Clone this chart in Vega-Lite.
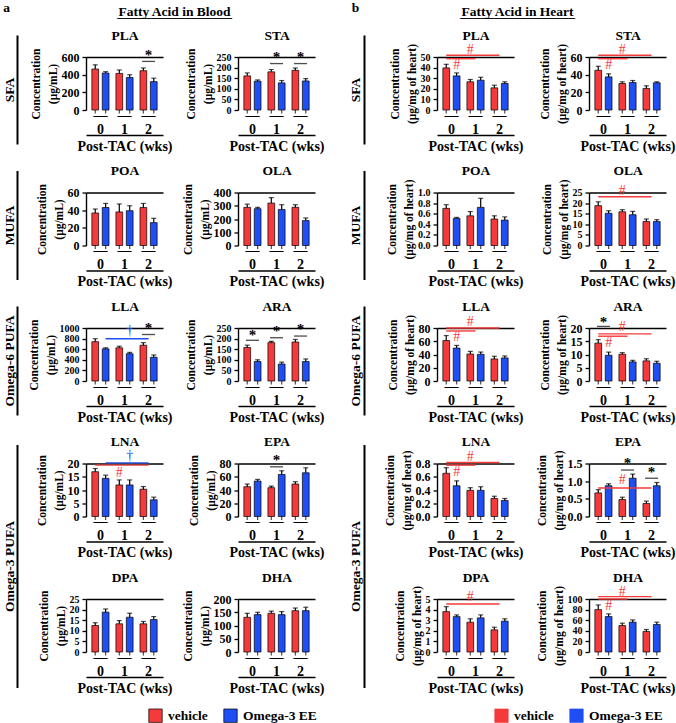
{
"$schema": "https://vega.github.io/schema/vega-lite/v6.json",
"padding": {"left": 2, "top": 0, "right": 0, "bottom": 0},
"background": "white",
"config": {
 "font": "Liberation Serif",
 "view": {"stroke": null},
 "axis": {"grid": false, "domainColor": "black", "tickColor": "black", "labelColor": "black", "titleColor": "black", "labelFontWeight": "bold", "titleFontWeight": "bold", "domainWidth": 1.4, "tickWidth": 1.3},
 "axisBottom": {"ticks": false, "offset": 25, "labelPadding": -27, "labelFontSize": 14, "labelAngle": 0, "labelLineHeight": 14, "titleFontSize": 14, "titlePadding": 3},
 "axisLeft": {"labelFontSize": 12, "tickSize": 4, "labelPadding": 3, "titleFontSize": 11.5, "titleLineHeight": 17, "titlePadding": 3, "labelOverlap": false, "labelSeparation": -40, "labelFlush": false, "labelBound": false},
 "scale": {"bandPaddingInner": 0.1, "barBandPaddingInner": 0.1, "bandPaddingOuter": 0.02, "offsetBandPaddingInner": 0.35, "offsetBandPaddingOuter": 0.1},
 "range": {"category": ["#f43a3a", "#1f4ff2"]},
 "bar": {"stroke": "black", "strokeWidth": 0.7}
},
"datasets": {
 "d": [
  {"p":"bPLA","w":0,"t":0,"m":464,"e":511},{"p":"bPLA","w":0,"t":1,"m":418,"e":434},{"p":"bPLA","w":1,"t":0,"m":414,"e":453},{"p":"bPLA","w":1,"t":1,"m":368,"e":399},{"p":"bPLA","w":2,"t":0,"m":445,"e":476},{"p":"bPLA","w":2,"t":1,"m":321,"e":360},
  {"p":"bSTA","w":0,"t":0,"m":161,"e":175},{"p":"bSTA","w":0,"t":1,"m":136,"e":142},{"p":"bSTA","w":1,"t":0,"m":180,"e":191},{"p":"bSTA","w":1,"t":1,"m":128,"e":139},{"p":"bSTA","w":2,"t":0,"m":187,"e":198},{"p":"bSTA","w":2,"t":1,"m":137,"e":148},
  {"p":"bPOA","w":0,"t":0,"m":36.8,"e":41.3},{"p":"bPOA","w":0,"t":1,"m":43,"e":47.6},{"p":"bPOA","w":1,"t":0,"m":38,"e":47},{"p":"bPOA","w":1,"t":1,"m":39.4,"e":45},{"p":"bPOA","w":2,"t":0,"m":43,"e":47.6},{"p":"bPOA","w":2,"t":1,"m":25.9,"e":30.8},
  {"p":"bOLA","w":0,"t":0,"m":288,"e":312},{"p":"bOLA","w":0,"t":1,"m":278,"e":288},{"p":"bOLA","w":1,"t":0,"m":320,"e":362},{"p":"bOLA","w":1,"t":1,"m":272,"e":308},{"p":"bOLA","w":2,"t":0,"m":288,"e":308},{"p":"bOLA","w":2,"t":1,"m":188,"e":208},
  {"p":"bLLA","w":0,"t":0,"m":742,"e":798},{"p":"bLLA","w":0,"t":1,"m":607,"e":626},{"p":"bLLA","w":1,"t":0,"m":626,"e":656},{"p":"bLLA","w":1,"t":1,"m":515,"e":540},{"p":"bLLA","w":2,"t":0,"m":675,"e":724},{"p":"bLLA","w":2,"t":1,"m":448,"e":491},
  {"p":"bARA","w":0,"t":0,"m":158,"e":169},{"p":"bARA","w":0,"t":1,"m":92,"e":100},{"p":"bARA","w":1,"t":0,"m":181,"e":187},{"p":"bARA","w":1,"t":1,"m":80,"e":89},{"p":"bARA","w":2,"t":0,"m":184,"e":196},{"p":"bARA","w":2,"t":1,"m":92,"e":104},
  {"p":"bLNA","w":0,"t":0,"m":16.9,"e":18.1},{"p":"bLNA","w":0,"t":1,"m":14.4,"e":15.6},{"p":"bLNA","w":1,"t":0,"m":11.9,"e":13.8},{"p":"bLNA","w":1,"t":1,"m":11.9,"e":13.8},{"p":"bLNA","w":2,"t":0,"m":10.3,"e":11.3},{"p":"bLNA","w":2,"t":1,"m":6.3,"e":7.3},
  {"p":"bEPA","w":0,"t":0,"m":45,"e":49},{"p":"bEPA","w":0,"t":1,"m":53.5,"e":56},{"p":"bEPA","w":1,"t":0,"m":43.5,"e":46},{"p":"bEPA","w":1,"t":1,"m":63.5,"e":69},{"p":"bEPA","w":2,"t":0,"m":49,"e":52.5},{"p":"bEPA","w":2,"t":1,"m":66,"e":73.5},
  {"p":"bDPA","w":0,"t":0,"m":12.5,"e":13.8},{"p":"bDPA","w":0,"t":1,"m":18.8,"e":20.3},{"p":"bDPA","w":1,"t":0,"m":13.3,"e":14.8},{"p":"bDPA","w":1,"t":1,"m":16.4,"e":18.3},{"p":"bDPA","w":2,"t":0,"m":13.3,"e":14.4},{"p":"bDPA","w":2,"t":1,"m":15.3,"e":16.7},
  {"p":"bDHA","w":0,"t":0,"m":131,"e":146},{"p":"bDHA","w":0,"t":1,"m":141,"e":150},{"p":"bDHA","w":1,"t":0,"m":146,"e":154},{"p":"bDHA","w":1,"t":1,"m":141,"e":152.5},{"p":"bDHA","w":2,"t":0,"m":156,"e":166},{"p":"bDHA","w":2,"t":1,"m":156,"e":169},
  {"p":"hPLA","w":0,"t":0,"m":39.7,"e":43.1},{"p":"hPLA","w":0,"t":1,"m":32.2,"e":35},{"p":"hPLA","w":1,"t":0,"m":26.6,"e":28.8},{"p":"hPLA","w":1,"t":1,"m":28.1,"e":30.9},{"p":"hPLA","w":2,"t":0,"m":20.9,"e":23.4},{"p":"hPLA","w":2,"t":1,"m":25,"e":26.6},
  {"p":"hSTA","w":0,"t":0,"m":45,"e":49.5},{"p":"hSTA","w":0,"t":1,"m":37.5,"e":40.9},{"p":"hSTA","w":1,"t":0,"m":30,"e":31.9},{"p":"hSTA","w":1,"t":1,"m":31.1,"e":33.4},{"p":"hSTA","w":2,"t":0,"m":24.4,"e":27.4},{"p":"hSTA","w":2,"t":1,"m":30.8,"e":31.9},
  {"p":"hPOA","w":0,"t":0,"m":0.70,"e":0.77},{"p":"hPOA","w":0,"t":1,"m":0.51,"e":0.53},{"p":"hPOA","w":1,"t":0,"m":0.56,"e":0.64},{"p":"hPOA","w":1,"t":1,"m":0.72,"e":0.89},{"p":"hPOA","w":2,"t":0,"m":0.50,"e":0.56},{"p":"hPOA","w":2,"t":1,"m":0.48,"e":0.54},
  {"p":"hOLA","w":0,"t":0,"m":18.8,"e":20.6},{"p":"hOLA","w":0,"t":1,"m":15.2,"e":16.4},{"p":"hOLA","w":1,"t":0,"m":15.9,"e":16.9},{"p":"hOLA","w":1,"t":1,"m":14.5,"e":16.1},{"p":"hOLA","w":2,"t":0,"m":11.3,"e":12.5},{"p":"hOLA","w":2,"t":1,"m":11.3,"e":12.2},
  {"p":"hLLA","w":0,"t":0,"m":61.1,"e":68.6},{"p":"hLLA","w":0,"t":1,"m":49.7,"e":53.7},{"p":"hLLA","w":1,"t":0,"m":40.7,"e":44.7},{"p":"hLLA","w":1,"t":1,"m":40.2,"e":43.7},{"p":"hLLA","w":2,"t":0,"m":33.3,"e":37.3},{"p":"hLLA","w":2,"t":1,"m":34.8,"e":37.8},
  {"p":"hARA","w":0,"t":0,"m":14.3,"e":15.6},{"p":"hARA","w":0,"t":1,"m":9.7,"e":10.9},{"p":"hARA","w":1,"t":0,"m":10.1,"e":10.7},{"p":"hARA","w":1,"t":1,"m":7.2,"e":7.8},{"p":"hARA","w":2,"t":0,"m":7.6,"e":8.4},{"p":"hARA","w":2,"t":1,"m":6.7,"e":7.45},
  {"p":"hLNA","w":0,"t":0,"m":0.652,"e":0.736},{"p":"hLNA","w":0,"t":1,"m":0.464,"e":0.538},{"p":"hLNA","w":1,"t":0,"m":0.395,"e":0.435},{"p":"hLNA","w":1,"t":1,"m":0.395,"e":0.449},{"p":"hLNA","w":2,"t":0,"m":0.272,"e":0.306},{"p":"hLNA","w":2,"t":1,"m":0.242,"e":0.272},
  {"p":"hEPA","w":0,"t":0,"m":0.667,"e":0.76},{"p":"hEPA","w":0,"t":1,"m":0.87,"e":0.926},{"p":"hEPA","w":1,"t":0,"m":0.48,"e":0.546},{"p":"hEPA","w":1,"t":1,"m":1.083,"e":1.2},{"p":"hEPA","w":2,"t":0,"m":0.37,"e":0.435},{"p":"hEPA","w":2,"t":1,"m":0.87,"e":0.963},
  {"p":"hDPA","w":0,"t":0,"m":3.81,"e":4.28},{"p":"hDPA","w":0,"t":1,"m":3.34,"e":3.5},{"p":"hDPA","w":1,"t":0,"m":2.81,"e":3.13},{"p":"hDPA","w":1,"t":1,"m":3.22,"e":3.5},{"p":"hDPA","w":2,"t":0,"m":2.09,"e":2.34},{"p":"hDPA","w":2,"t":1,"m":2.91,"e":3.13},
  {"p":"hDHA","w":0,"t":0,"m":80,"e":88.8},{"p":"hDHA","w":0,"t":1,"m":66.9,"e":71.9},{"p":"hDHA","w":1,"t":0,"m":50,"e":54.4},{"p":"hDHA","w":1,"t":1,"m":56.3,"e":60.6},{"p":"hDHA","w":2,"t":0,"m":38.8,"e":42.5},{"p":"hDHA","w":2,"t":1,"m":51.9,"e":56.3}
 ],
 "st": [
  {"p":"bPLA","w":2,"y":550,"ys":627},
  {"p":"bSTA","w":1,"y":219,"ys":250},{"p":"bSTA","w":2,"y":219,"ys":250},
  {"p":"bLLA","w":2,"y":877,"ys":1000},
  {"p":"bARA","w":0,"y":192,"ys":219},{"p":"bARA","w":1,"y":204,"ys":235},{"p":"bARA","w":2,"y":212,"ys":245},
  {"p":"bEPA","w":1,"y":75,"ys":85},
  {"p":"hARA","w":0,"y":20.6,"ys":22.4},
  {"p":"hEPA","w":1,"y":1.315,"ys":1.52},{"p":"hEPA","w":2,"y":1.083,"ys":1.27}
 ],
 "l": [
  {"p":"bLLA","w":0,"w2":2,"t":1,"y":798},
  {"p":"bLNA","w":0,"w2":2,"t":0,"y":19.4},{"p":"bLNA","w":0,"w2":2,"t":1,"y":20.25},
  {"p":"hPLA","w":0,"w2":2,"t":0,"y":51.6},{"p":"hPLA","w":0,"w2":1,"t":0,"y":48.4},
  {"p":"hSTA","w":0,"w2":2,"t":0,"y":61.9},{"p":"hSTA","w":0,"w2":1,"t":0,"y":58.1},
  {"p":"hOLA","w":0,"w2":2,"t":0,"y":23},
  {"p":"hLLA","w":0,"w2":2,"t":0,"y":80},{"p":"hLLA","w":0,"w2":1,"t":0,"y":75.5},
  {"p":"hARA","w":0,"w2":2,"t":0,"y":17.8},{"p":"hARA","w":0,"w2":1,"t":0,"y":16.9},
  {"p":"hLNA","w":0,"w2":2,"t":0,"y":0.815},{"p":"hLNA","w":0,"w2":1,"t":0,"y":0.775},
  {"p":"hEPA","w":0,"w2":2,"t":0,"y":0.806},
  {"p":"hDPA","w":0,"w2":2,"t":0,"y":4.53},
  {"p":"hDHA","w":0,"w2":2,"t":0,"y":104.4},{"p":"hDHA","w":0,"w2":1,"t":0,"y":100}
 ],
 "s": [
  {"p":"bLLA","w":1,"t":1,"g":1,"y":939,"s":"†"},
  {"p":"bLNA","w":1,"t":0,"g":0,"y":16.25,"s":"#"},{"p":"bLNA","w":1,"t":1,"g":1,"y":22.75,"s":"†"},
  {"p":"hPLA","w":1,"t":0,"g":0,"y":56.25,"s":"#"},{"p":"hPLA","w":0,"t":1,"g":0,"y":42.2,"s":"#"},
  {"p":"hSTA","w":1,"t":0,"g":0,"y":67.5,"s":"#"},{"p":"hSTA","w":0,"t":1,"g":0,"y":50.6,"s":"#"},
  {"p":"hOLA","w":1,"t":0,"g":0,"y":25.8,"s":"#"},
  {"p":"hLLA","w":1,"t":0,"g":0,"y":88.5,"s":"#"},{"p":"hLLA","w":0,"t":1,"g":0,"y":66,"s":"#"},
  {"p":"hARA","w":1,"t":0,"g":0,"y":20.2,"s":"#"},{"p":"hARA","w":0,"t":1,"g":0,"y":14.4,"s":"#"},
  {"p":"hLNA","w":1,"t":0,"g":0,"y":0.90,"s":"#"},{"p":"hLNA","w":0,"t":1,"g":0,"y":0.677,"s":"#"},
  {"p":"hEPA","w":1,"t":0,"g":0,"y":1.04,"s":"#"},
  {"p":"hDPA","w":1,"t":0,"g":0,"y":5.16,"s":"#"},
  {"p":"hDHA","w":1,"t":0,"g":0,"y":113.75,"s":"#"},{"p":"hDHA","w":0,"t":1,"g":0,"y":87.5,"s":"#"}
 ]
},
"columns": 4,
"spacing": {"row": 82.5, "column": 75},
"bounds": "flush",
"align": "each",
"resolve": {"scale": {"color": "independent"}},
"concat": [
 {"width":77,"height":53,"resolve":{"scale":{"x":"independent","y":"independent"}},"layer":[
  {"data":{"name":"d"},"transform":[{"filter":"datum.p=='bPLA'"}],"layer":[
   {"mark":{"type":"tick","orient":"vertical","size":7,"thickness":1.2,"color":"black"},"encoding":{"x":{"field":"w","type":"nominal"},"xOffset":{"field":"t","type":"nominal"},"y":{"datum":0}}},
   {"mark":"bar","encoding":{"x":{"field":"w","type":"nominal","title":"Post-TAC (wks)","axis":{"labelExpr":"['—', datum.label]"}},"xOffset":{"field":"t","type":"nominal"},"y":{"field":"m","type":"quantitative","scale":{"domain":[0,600],"nice":false},"axis":{"labelOverlap":false,"tickCount":3,"title":["Concentration","(μg/mL)"]}},"color":{"field":"t","type":"nominal","legend":null}}},
   {"mark":{"type":"rule","strokeWidth":1.2,"color":"black"},"encoding":{"x":{"field":"w","type":"nominal"},"xOffset":{"field":"t","type":"nominal"},"y":{"field":"e","type":"quantitative"},"y2":{"field":"m"}}},
   {"mark":{"type":"tick","orient":"horizontal","size":5,"thickness":1.2,"color":"black"},"encoding":{"x":{"field":"w","type":"nominal"},"xOffset":{"field":"t","type":"nominal"},"y":{"field":"e","type":"quantitative"}}},
   {"data":{"name":"st"},"transform":[{"filter":"datum.p=='bPLA'"}],"mark":{"type":"tick","orient":"horizontal","size":13,"thickness":1.3,"color":"black"},"encoding":{"x":{"field":"w","type":"nominal"},"y":{"field":"y","type":"quantitative"}}},
   {"data":{"name":"st"},"transform":[{"filter":"datum.p=='bPLA'"}],"mark":{"type":"text","text":"*","fontSize":15,"fontWeight":"bold","color":"black"},"encoding":{"x":{"field":"w","type":"nominal"},"y":{"field":"ys","type":"quantitative"}}}
  ]},
  {"data":{"values":[{}]},"mark":{"type":"point","opacity":0},"encoding":{"x":{"datum":0,"type":"quantitative","scale":{"domain":[0,1],"range":[0,77]},"axis":{"offset":0,"labels":false,"ticks":false,"title":"PLA","titleY":-18,"titleBaseline":"alphabetic","titleFontSize":13.5,"titlePadding":0}}}},
  {"data":{"values":[{"h":"a"},{"h":"Fatty Acid in Blood"}]},"mark":{"type":"point","opacity":0},"encoding":{"x":{"field":"h","type":"nominal","scale":{"type":"point","domain":["a","Fatty Acid in Blood"],"range":[-80,88],"padding":0},"axis":{"orient":"top","offset":39,"domain":false,"ticks":false,"title":null,"labelAngle":0,"labelFontSize":13.5,"labelOverlap":false,"labelPadding":{"condition":{"test":"datum.value=='a'","value":4},"value":0},"labelExpr":"datum.value=='a' ? 'a' : [datum.value, '_________________']","labelLineHeight":1}},"y":{"datum":0,"type":"quantitative","scale":{"domain":[0,1],"range":[87,-22]},"axis":{"orient":"left","offset":69,"labels":false,"ticks":false,"title":"SFA","titleFontSize":13.5,"titlePadding":1,"domainWidth":2}}}}
 ]},
 {"width":124,"height":53,"resolve":{"scale":{"x":"independent","y":"independent"}},"layer":[
  {"data":{"name":"d"},"transform":[{"filter":"datum.p=='bSTA'"}],"layer":[
   {"mark":{"type":"tick","orient":"vertical","size":7,"thickness":1.2,"color":"black"},"encoding":{"x":{"field":"w","type":"nominal"},"xOffset":{"field":"t","type":"nominal"},"y":{"datum":0}}},
   {"mark":"bar","encoding":{"x":{"field":"w","type":"nominal","title":"Post-TAC (wks)","scale":{"range":[0,77]},"axis":{"labelExpr":"['—', datum.label]"}},"xOffset":{"field":"t","type":"nominal"},"y":{"field":"m","type":"quantitative","scale":{"domain":[0,250],"nice":false},"axis":{"labelOverlap":false,"tickCount":5,"labelFontSize":10,"title":["Concentration","(μg/mL)"]}},"color":{"field":"t","type":"nominal","legend":null}}},
   {"mark":{"type":"rule","strokeWidth":1.2,"color":"black"},"encoding":{"x":{"field":"w","type":"nominal"},"xOffset":{"field":"t","type":"nominal"},"y":{"field":"e","type":"quantitative"},"y2":{"field":"m"}}},
   {"mark":{"type":"tick","orient":"horizontal","size":5,"thickness":1.2,"color":"black"},"encoding":{"x":{"field":"w","type":"nominal"},"xOffset":{"field":"t","type":"nominal"},"y":{"field":"e","type":"quantitative"}}},
   {"data":{"name":"st"},"transform":[{"filter":"datum.p=='bSTA'"}],"mark":{"type":"tick","orient":"horizontal","size":13,"thickness":1.3,"color":"black"},"encoding":{"x":{"field":"w","type":"nominal"},"y":{"field":"y","type":"quantitative"}}},
   {"data":{"name":"st"},"transform":[{"filter":"datum.p=='bSTA'"}],"mark":{"type":"text","text":"*","fontSize":15,"fontWeight":"bold","color":"black"},"encoding":{"x":{"field":"w","type":"nominal"},"y":{"field":"ys","type":"quantitative"}}}
  ]},
  {"data":{"values":[{}]},"mark":{"type":"point","opacity":0},"encoding":{"x":{"datum":0,"type":"quantitative","scale":{"domain":[0,1],"range":[0,77]},"axis":{"offset":0,"labels":false,"ticks":false,"title":"STA","titleY":-18,"titleBaseline":"alphabetic","titleFontSize":13.5,"titlePadding":0}}}}
 ]},
 {"width":77,"height":53,"resolve":{"scale":{"x":"independent","y":"independent"}},"layer":[
  {"data":{"name":"d"},"transform":[{"filter":"datum.p=='hPLA'"}],"layer":[
   {"mark":{"type":"tick","orient":"vertical","size":7,"thickness":1.2,"color":"black"},"encoding":{"x":{"field":"w","type":"nominal"},"xOffset":{"field":"t","type":"nominal"},"y":{"datum":0}}},
   {"mark":"bar","encoding":{"x":{"field":"w","type":"nominal","title":"Post-TAC (wks)","axis":{"labelExpr":"['—', datum.label]"}},"xOffset":{"field":"t","type":"nominal"},"y":{"field":"m","type":"quantitative","scale":{"domain":[0,50],"nice":false},"axis":{"labelOverlap":false,"tickCount":5,"labelFontSize":10,"title":["Concentration","(μg/mg of heart)"]}},"color":{"field":"t","type":"nominal","legend":null}}},
   {"mark":{"type":"rule","strokeWidth":1.2,"color":"black"},"encoding":{"x":{"field":"w","type":"nominal"},"xOffset":{"field":"t","type":"nominal"},"y":{"field":"e","type":"quantitative"},"y2":{"field":"m"}}},
   {"mark":{"type":"tick","orient":"horizontal","size":5,"thickness":1.2,"color":"black"},"encoding":{"x":{"field":"w","type":"nominal"},"xOffset":{"field":"t","type":"nominal"},"y":{"field":"e","type":"quantitative"}}},
   {"data":{"name":"l"},"transform":[{"filter":"datum.p=='hPLA'"}],"mark":{"type":"rule","strokeWidth":1.4},"encoding":{"x":{"field":"w","type":"nominal"},"x2":{"field":"w2"},"xOffset":{"field":"t","type":"nominal"},"y":{"field":"y","type":"quantitative"},"color":{"field":"t","type":"nominal","legend":null}}},
   {"data":{"name":"s"},"transform":[{"filter":"datum.p=='hPLA'"}],"mark":{"type":"text","fontSize":14},"encoding":{"x":{"field":"w","type":"nominal"},"xOffset":{"field":"t","type":"nominal"},"y":{"field":"y","type":"quantitative"},"text":{"field":"s"},"color":{"field":"g","type":"nominal","legend":null}}}
  ]},
  {"data":{"values":[{}]},"mark":{"type":"point","opacity":0},"encoding":{"x":{"datum":0,"type":"quantitative","scale":{"domain":[0,1],"range":[0,77]},"axis":{"offset":0,"labels":false,"ticks":false,"title":"PLA","titleY":-18,"titleBaseline":"alphabetic","titleFontSize":13.5,"titlePadding":0}}}},
  {"data":{"values":[{"h":"b"},{"h":"Fatty Acid in Heart"}]},"mark":{"type":"point","opacity":0},"encoding":{"x":{"field":"h","type":"nominal","scale":{"type":"point","domain":["b","Fatty Acid in Heart"],"range":[-82,80],"padding":0},"axis":{"orient":"top","offset":39,"domain":false,"ticks":false,"title":null,"labelAngle":0,"labelFontSize":13.5,"labelOverlap":false,"labelPadding":{"condition":{"test":"datum.value=='b'","value":4},"value":0},"labelExpr":"datum.value=='b' ? 'b' : [datum.value, '_________________']","labelLineHeight":1}},"y":{"datum":0,"type":"quantitative","scale":{"domain":[0,1],"range":[87,-22]},"axis":{"orient":"left","offset":73,"labels":false,"ticks":false,"title":"SFA","titleFontSize":13.5,"titlePadding":1.5,"domainWidth":2}}}}
 ]},
 {"width":77,"height":53,"resolve":{"scale":{"x":"independent","y":"independent"}},"layer":[
  {"data":{"name":"d"},"transform":[{"filter":"datum.p=='hSTA'"}],"layer":[
   {"mark":{"type":"tick","orient":"vertical","size":7,"thickness":1.2,"color":"black"},"encoding":{"x":{"field":"w","type":"nominal"},"xOffset":{"field":"t","type":"nominal"},"y":{"datum":0}}},
   {"mark":"bar","encoding":{"x":{"field":"w","type":"nominal","title":"Post-TAC (wks)","axis":{"labelExpr":"['—', datum.label]"}},"xOffset":{"field":"t","type":"nominal"},"y":{"field":"m","type":"quantitative","scale":{"domain":[0,60],"nice":false},"axis":{"labelOverlap":false,"tickCount":3,"title":["Concentration","(μg/mg of heart)"]}},"color":{"field":"t","type":"nominal","legend":null}}},
   {"mark":{"type":"rule","strokeWidth":1.2,"color":"black"},"encoding":{"x":{"field":"w","type":"nominal"},"xOffset":{"field":"t","type":"nominal"},"y":{"field":"e","type":"quantitative"},"y2":{"field":"m"}}},
   {"mark":{"type":"tick","orient":"horizontal","size":5,"thickness":1.2,"color":"black"},"encoding":{"x":{"field":"w","type":"nominal"},"xOffset":{"field":"t","type":"nominal"},"y":{"field":"e","type":"quantitative"}}},
   {"data":{"name":"l"},"transform":[{"filter":"datum.p=='hSTA'"}],"mark":{"type":"rule","strokeWidth":1.4},"encoding":{"x":{"field":"w","type":"nominal"},"x2":{"field":"w2"},"xOffset":{"field":"t","type":"nominal"},"y":{"field":"y","type":"quantitative"},"color":{"field":"t","type":"nominal","legend":null}}},
   {"data":{"name":"s"},"transform":[{"filter":"datum.p=='hSTA'"}],"mark":{"type":"text","fontSize":14},"encoding":{"x":{"field":"w","type":"nominal"},"xOffset":{"field":"t","type":"nominal"},"y":{"field":"y","type":"quantitative"},"text":{"field":"s"},"color":{"field":"g","type":"nominal","legend":null}}}
  ]},
  {"data":{"values":[{}]},"mark":{"type":"point","opacity":0},"encoding":{"x":{"datum":0,"type":"quantitative","scale":{"domain":[0,1],"range":[0,77]},"axis":{"offset":0,"labels":false,"ticks":false,"title":"STA","titleY":-18,"titleBaseline":"alphabetic","titleFontSize":13.5,"titlePadding":0}}}}
 ]},
 {"width":77,"height":53,"resolve":{"scale":{"x":"independent","y":"independent"}},"layer":[
  {"data":{"name":"d"},"transform":[{"filter":"datum.p=='bPOA'"}],"layer":[
   {"mark":{"type":"tick","orient":"vertical","size":7,"thickness":1.2,"color":"black"},"encoding":{"x":{"field":"w","type":"nominal"},"xOffset":{"field":"t","type":"nominal"},"y":{"datum":0}}},
   {"mark":"bar","encoding":{"x":{"field":"w","type":"nominal","title":"Post-TAC (wks)","axis":{"labelExpr":"['—', datum.label]"}},"xOffset":{"field":"t","type":"nominal"},"y":{"field":"m","type":"quantitative","scale":{"domain":[0,60],"nice":false},"axis":{"labelOverlap":false,"tickCount":3,"title":["Concentration","(μg/mL)"]}},"color":{"field":"t","type":"nominal","legend":null}}},
   {"mark":{"type":"rule","strokeWidth":1.2,"color":"black"},"encoding":{"x":{"field":"w","type":"nominal"},"xOffset":{"field":"t","type":"nominal"},"y":{"field":"e","type":"quantitative"},"y2":{"field":"m"}}},
   {"mark":{"type":"tick","orient":"horizontal","size":5,"thickness":1.2,"color":"black"},"encoding":{"x":{"field":"w","type":"nominal"},"xOffset":{"field":"t","type":"nominal"},"y":{"field":"e","type":"quantitative"}}}
  ]},
  {"data":{"values":[{}]},"mark":{"type":"point","opacity":0},"encoding":{"x":{"datum":0,"type":"quantitative","scale":{"domain":[0,1],"range":[0,77]},"axis":{"offset":0,"labels":false,"ticks":false,"title":"POA","titleY":-18,"titleBaseline":"alphabetic","titleFontSize":13.5,"titlePadding":0}}}},
  {"data":{"values":[{}]},"mark":{"type":"point","opacity":0},"encoding":{"y":{"datum":0,"type":"quantitative","scale":{"domain":[0,1],"range":[87,-22]},"axis":{"orient":"left","offset":69,"labels":false,"ticks":false,"title":"MUFA","titleFontSize":13.5,"titlePadding":1,"domainWidth":2}}}}
 ]},
 {"width":124,"height":53,"resolve":{"scale":{"x":"independent","y":"independent"}},"layer":[
  {"data":{"name":"d"},"transform":[{"filter":"datum.p=='bOLA'"}],"layer":[
   {"mark":{"type":"tick","orient":"vertical","size":7,"thickness":1.2,"color":"black"},"encoding":{"x":{"field":"w","type":"nominal"},"xOffset":{"field":"t","type":"nominal"},"y":{"datum":0}}},
   {"mark":"bar","encoding":{"x":{"field":"w","type":"nominal","title":"Post-TAC (wks)","scale":{"range":[0,77]},"axis":{"labelExpr":"['—', datum.label]"}},"xOffset":{"field":"t","type":"nominal"},"y":{"field":"m","type":"quantitative","scale":{"domain":[0,400],"nice":false},"axis":{"labelOverlap":false,"tickCount":4,"title":["Concentration","(μg/mL)"]}},"color":{"field":"t","type":"nominal","legend":null}}},
   {"mark":{"type":"rule","strokeWidth":1.2,"color":"black"},"encoding":{"x":{"field":"w","type":"nominal"},"xOffset":{"field":"t","type":"nominal"},"y":{"field":"e","type":"quantitative"},"y2":{"field":"m"}}},
   {"mark":{"type":"tick","orient":"horizontal","size":5,"thickness":1.2,"color":"black"},"encoding":{"x":{"field":"w","type":"nominal"},"xOffset":{"field":"t","type":"nominal"},"y":{"field":"e","type":"quantitative"}}}
  ]},
  {"data":{"values":[{}]},"mark":{"type":"point","opacity":0},"encoding":{"x":{"datum":0,"type":"quantitative","scale":{"domain":[0,1],"range":[0,77]},"axis":{"offset":0,"labels":false,"ticks":false,"title":"OLA","titleY":-18,"titleBaseline":"alphabetic","titleFontSize":13.5,"titlePadding":0}}}}
 ]},
 {"width":77,"height":53,"resolve":{"scale":{"x":"independent","y":"independent"}},"layer":[
  {"data":{"name":"d"},"transform":[{"filter":"datum.p=='hPOA'"}],"layer":[
   {"mark":{"type":"tick","orient":"vertical","size":7,"thickness":1.2,"color":"black"},"encoding":{"x":{"field":"w","type":"nominal"},"xOffset":{"field":"t","type":"nominal"},"y":{"datum":0}}},
   {"mark":"bar","encoding":{"x":{"field":"w","type":"nominal","title":"Post-TAC (wks)","axis":{"labelExpr":"['—', datum.label]"}},"xOffset":{"field":"t","type":"nominal"},"y":{"field":"m","type":"quantitative","scale":{"domain":[0,1],"nice":false},"axis":{"labelOverlap":false,"tickCount":5,"labelFontSize":10,"format":".1f","title":["Concentration","(μg/mg of heart)"]}},"color":{"field":"t","type":"nominal","legend":null}}},
   {"mark":{"type":"rule","strokeWidth":1.2,"color":"black"},"encoding":{"x":{"field":"w","type":"nominal"},"xOffset":{"field":"t","type":"nominal"},"y":{"field":"e","type":"quantitative"},"y2":{"field":"m"}}},
   {"mark":{"type":"tick","orient":"horizontal","size":5,"thickness":1.2,"color":"black"},"encoding":{"x":{"field":"w","type":"nominal"},"xOffset":{"field":"t","type":"nominal"},"y":{"field":"e","type":"quantitative"}}}
  ]},
  {"data":{"values":[{}]},"mark":{"type":"point","opacity":0},"encoding":{"x":{"datum":0,"type":"quantitative","scale":{"domain":[0,1],"range":[0,77]},"axis":{"offset":0,"labels":false,"ticks":false,"title":"POA","titleY":-18,"titleBaseline":"alphabetic","titleFontSize":13.5,"titlePadding":0}}}},
  {"data":{"values":[{}]},"mark":{"type":"point","opacity":0},"encoding":{"y":{"datum":0,"type":"quantitative","scale":{"domain":[0,1],"range":[87,-22]},"axis":{"orient":"left","offset":73,"labels":false,"ticks":false,"title":"MUFA","titleFontSize":13.5,"titlePadding":1.5,"domainWidth":2}}}}
 ]},
 {"width":77,"height":53,"resolve":{"scale":{"x":"independent","y":"independent"}},"layer":[
  {"data":{"name":"d"},"transform":[{"filter":"datum.p=='hOLA'"}],"layer":[
   {"mark":{"type":"tick","orient":"vertical","size":7,"thickness":1.2,"color":"black"},"encoding":{"x":{"field":"w","type":"nominal"},"xOffset":{"field":"t","type":"nominal"},"y":{"datum":0}}},
   {"mark":"bar","encoding":{"x":{"field":"w","type":"nominal","title":"Post-TAC (wks)","axis":{"labelExpr":"['—', datum.label]"}},"xOffset":{"field":"t","type":"nominal"},"y":{"field":"m","type":"quantitative","scale":{"domain":[0,25],"nice":false},"axis":{"labelOverlap":false,"tickCount":5,"labelFontSize":10,"title":["Concentration","(μg/mg of heart)"]}},"color":{"field":"t","type":"nominal","legend":null}}},
   {"mark":{"type":"rule","strokeWidth":1.2,"color":"black"},"encoding":{"x":{"field":"w","type":"nominal"},"xOffset":{"field":"t","type":"nominal"},"y":{"field":"e","type":"quantitative"},"y2":{"field":"m"}}},
   {"mark":{"type":"tick","orient":"horizontal","size":5,"thickness":1.2,"color":"black"},"encoding":{"x":{"field":"w","type":"nominal"},"xOffset":{"field":"t","type":"nominal"},"y":{"field":"e","type":"quantitative"}}},
   {"data":{"name":"l"},"transform":[{"filter":"datum.p=='hOLA'"}],"mark":{"type":"rule","strokeWidth":1.4},"encoding":{"x":{"field":"w","type":"nominal"},"x2":{"field":"w2"},"xOffset":{"field":"t","type":"nominal"},"y":{"field":"y","type":"quantitative"},"color":{"field":"t","type":"nominal","legend":null}}},
   {"data":{"name":"s"},"transform":[{"filter":"datum.p=='hOLA'"}],"mark":{"type":"text","fontSize":14},"encoding":{"x":{"field":"w","type":"nominal"},"xOffset":{"field":"t","type":"nominal"},"y":{"field":"y","type":"quantitative"},"text":{"field":"s"},"color":{"field":"g","type":"nominal","legend":null}}}
  ]},
  {"data":{"values":[{}]},"mark":{"type":"point","opacity":0},"encoding":{"x":{"datum":0,"type":"quantitative","scale":{"domain":[0,1],"range":[0,77]},"axis":{"offset":0,"labels":false,"ticks":false,"title":"OLA","titleY":-18,"titleBaseline":"alphabetic","titleFontSize":13.5,"titlePadding":0}}}}
 ]},
 {"width":77,"height":53,"resolve":{"scale":{"x":"independent","y":"independent"}},"layer":[
  {"data":{"name":"d"},"transform":[{"filter":"datum.p=='bLLA'"}],"layer":[
   {"mark":{"type":"tick","orient":"vertical","size":7,"thickness":1.2,"color":"black"},"encoding":{"x":{"field":"w","type":"nominal"},"xOffset":{"field":"t","type":"nominal"},"y":{"datum":0}}},
   {"mark":"bar","encoding":{"x":{"field":"w","type":"nominal","title":"Post-TAC (wks)","axis":{"labelExpr":"['—', datum.label]"}},"xOffset":{"field":"t","type":"nominal"},"y":{"field":"m","type":"quantitative","scale":{"domain":[0,1000],"nice":false},"axis":{"labelOverlap":false,"tickCount":5,"labelFontSize":10,"format":"d","title":["Concentration","(μg/mL)"]}},"color":{"field":"t","type":"nominal","legend":null}}},
   {"mark":{"type":"rule","strokeWidth":1.2,"color":"black"},"encoding":{"x":{"field":"w","type":"nominal"},"xOffset":{"field":"t","type":"nominal"},"y":{"field":"e","type":"quantitative"},"y2":{"field":"m"}}},
   {"mark":{"type":"tick","orient":"horizontal","size":5,"thickness":1.2,"color":"black"},"encoding":{"x":{"field":"w","type":"nominal"},"xOffset":{"field":"t","type":"nominal"},"y":{"field":"e","type":"quantitative"}}},
   {"data":{"name":"st"},"transform":[{"filter":"datum.p=='bLLA'"}],"mark":{"type":"tick","orient":"horizontal","size":13,"thickness":1.3,"color":"black"},"encoding":{"x":{"field":"w","type":"nominal"},"y":{"field":"y","type":"quantitative"}}},
   {"data":{"name":"st"},"transform":[{"filter":"datum.p=='bLLA'"}],"mark":{"type":"text","text":"*","fontSize":15,"fontWeight":"bold","color":"black"},"encoding":{"x":{"field":"w","type":"nominal"},"y":{"field":"ys","type":"quantitative"}}},
   {"data":{"name":"l"},"transform":[{"filter":"datum.p=='bLLA'"}],"mark":{"type":"rule","strokeWidth":1.4},"encoding":{"x":{"field":"w","type":"nominal"},"x2":{"field":"w2"},"xOffset":{"field":"t","type":"nominal"},"y":{"field":"y","type":"quantitative"},"color":{"field":"t","type":"nominal","legend":null}}},
   {"data":{"name":"s"},"transform":[{"filter":"datum.p=='bLLA'"}],"mark":{"type":"text","fontSize":14},"encoding":{"x":{"field":"w","type":"nominal"},"xOffset":{"field":"t","type":"nominal"},"y":{"field":"y","type":"quantitative"},"text":{"field":"s"},"color":{"field":"g","type":"nominal","legend":null}}}
  ]},
  {"data":{"values":[{}]},"mark":{"type":"point","opacity":0},"encoding":{"x":{"datum":0,"type":"quantitative","scale":{"domain":[0,1],"range":[0,77]},"axis":{"offset":0,"labels":false,"ticks":false,"title":"LLA","titleY":-18,"titleBaseline":"alphabetic","titleFontSize":13.5,"titlePadding":0}}}},
  {"data":{"values":[{}]},"mark":{"type":"point","opacity":0},"encoding":{"y":{"datum":0,"type":"quantitative","scale":{"domain":[0,1],"range":[87,-22]},"axis":{"orient":"left","offset":69,"labels":false,"ticks":false,"title":"Omega-6 PUFA","titleFontSize":13.5,"titlePadding":1,"domainWidth":2}}}}
 ]},
 {"width":124,"height":53,"resolve":{"scale":{"x":"independent","y":"independent"}},"layer":[
  {"data":{"name":"d"},"transform":[{"filter":"datum.p=='bARA'"}],"layer":[
   {"mark":{"type":"tick","orient":"vertical","size":7,"thickness":1.2,"color":"black"},"encoding":{"x":{"field":"w","type":"nominal"},"xOffset":{"field":"t","type":"nominal"},"y":{"datum":0}}},
   {"mark":"bar","encoding":{"x":{"field":"w","type":"nominal","title":"Post-TAC (wks)","scale":{"range":[0,77]},"axis":{"labelExpr":"['—', datum.label]"}},"xOffset":{"field":"t","type":"nominal"},"y":{"field":"m","type":"quantitative","scale":{"domain":[0,250],"nice":false},"axis":{"labelOverlap":false,"tickCount":5,"labelFontSize":10,"title":["Concentration","(μg/mL)"]}},"color":{"field":"t","type":"nominal","legend":null}}},
   {"mark":{"type":"rule","strokeWidth":1.2,"color":"black"},"encoding":{"x":{"field":"w","type":"nominal"},"xOffset":{"field":"t","type":"nominal"},"y":{"field":"e","type":"quantitative"},"y2":{"field":"m"}}},
   {"mark":{"type":"tick","orient":"horizontal","size":5,"thickness":1.2,"color":"black"},"encoding":{"x":{"field":"w","type":"nominal"},"xOffset":{"field":"t","type":"nominal"},"y":{"field":"e","type":"quantitative"}}},
   {"data":{"name":"st"},"transform":[{"filter":"datum.p=='bARA'"}],"mark":{"type":"tick","orient":"horizontal","size":13,"thickness":1.3,"color":"black"},"encoding":{"x":{"field":"w","type":"nominal"},"y":{"field":"y","type":"quantitative"}}},
   {"data":{"name":"st"},"transform":[{"filter":"datum.p=='bARA'"}],"mark":{"type":"text","text":"*","fontSize":15,"fontWeight":"bold","color":"black"},"encoding":{"x":{"field":"w","type":"nominal"},"y":{"field":"ys","type":"quantitative"}}}
  ]},
  {"data":{"values":[{}]},"mark":{"type":"point","opacity":0},"encoding":{"x":{"datum":0,"type":"quantitative","scale":{"domain":[0,1],"range":[0,77]},"axis":{"offset":0,"labels":false,"ticks":false,"title":"ARA","titleY":-18,"titleBaseline":"alphabetic","titleFontSize":13.5,"titlePadding":0}}}}
 ]},
 {"width":77,"height":53,"resolve":{"scale":{"x":"independent","y":"independent"}},"layer":[
  {"data":{"name":"d"},"transform":[{"filter":"datum.p=='hLLA'"}],"layer":[
   {"mark":{"type":"tick","orient":"vertical","size":7,"thickness":1.2,"color":"black"},"encoding":{"x":{"field":"w","type":"nominal"},"xOffset":{"field":"t","type":"nominal"},"y":{"datum":0}}},
   {"mark":"bar","encoding":{"x":{"field":"w","type":"nominal","title":"Post-TAC (wks)","axis":{"labelExpr":"['—', datum.label]"}},"xOffset":{"field":"t","type":"nominal"},"y":{"field":"m","type":"quantitative","scale":{"domain":[0,80],"nice":false},"axis":{"labelOverlap":false,"tickCount":4,"title":["Concentration","(μg/mg of heart)"]}},"color":{"field":"t","type":"nominal","legend":null}}},
   {"mark":{"type":"rule","strokeWidth":1.2,"color":"black"},"encoding":{"x":{"field":"w","type":"nominal"},"xOffset":{"field":"t","type":"nominal"},"y":{"field":"e","type":"quantitative"},"y2":{"field":"m"}}},
   {"mark":{"type":"tick","orient":"horizontal","size":5,"thickness":1.2,"color":"black"},"encoding":{"x":{"field":"w","type":"nominal"},"xOffset":{"field":"t","type":"nominal"},"y":{"field":"e","type":"quantitative"}}},
   {"data":{"name":"l"},"transform":[{"filter":"datum.p=='hLLA'"}],"mark":{"type":"rule","strokeWidth":1.4},"encoding":{"x":{"field":"w","type":"nominal"},"x2":{"field":"w2"},"xOffset":{"field":"t","type":"nominal"},"y":{"field":"y","type":"quantitative"},"color":{"field":"t","type":"nominal","legend":null}}},
   {"data":{"name":"s"},"transform":[{"filter":"datum.p=='hLLA'"}],"mark":{"type":"text","fontSize":14},"encoding":{"x":{"field":"w","type":"nominal"},"xOffset":{"field":"t","type":"nominal"},"y":{"field":"y","type":"quantitative"},"text":{"field":"s"},"color":{"field":"g","type":"nominal","legend":null}}}
  ]},
  {"data":{"values":[{}]},"mark":{"type":"point","opacity":0},"encoding":{"x":{"datum":0,"type":"quantitative","scale":{"domain":[0,1],"range":[0,77]},"axis":{"offset":0,"labels":false,"ticks":false,"title":"LLA","titleY":-18,"titleBaseline":"alphabetic","titleFontSize":13.5,"titlePadding":0}}}},
  {"data":{"values":[{}]},"mark":{"type":"point","opacity":0},"encoding":{"y":{"datum":0,"type":"quantitative","scale":{"domain":[0,1],"range":[87,-22]},"axis":{"orient":"left","offset":73,"labels":false,"ticks":false,"title":"Omega-6 PUFA","titleFontSize":13.5,"titlePadding":1.5,"domainWidth":2}}}}
 ]},
 {"width":77,"height":53,"resolve":{"scale":{"x":"independent","y":"independent"}},"layer":[
  {"data":{"name":"d"},"transform":[{"filter":"datum.p=='hARA'"}],"layer":[
   {"mark":{"type":"tick","orient":"vertical","size":7,"thickness":1.2,"color":"black"},"encoding":{"x":{"field":"w","type":"nominal"},"xOffset":{"field":"t","type":"nominal"},"y":{"datum":0}}},
   {"mark":"bar","encoding":{"x":{"field":"w","type":"nominal","title":"Post-TAC (wks)","axis":{"labelExpr":"['—', datum.label]"}},"xOffset":{"field":"t","type":"nominal"},"y":{"field":"m","type":"quantitative","scale":{"domain":[0,20],"nice":false},"axis":{"labelOverlap":false,"tickCount":4,"title":["Concentration","(μg/mg of heart)"]}},"color":{"field":"t","type":"nominal","legend":null}}},
   {"mark":{"type":"rule","strokeWidth":1.2,"color":"black"},"encoding":{"x":{"field":"w","type":"nominal"},"xOffset":{"field":"t","type":"nominal"},"y":{"field":"e","type":"quantitative"},"y2":{"field":"m"}}},
   {"mark":{"type":"tick","orient":"horizontal","size":5,"thickness":1.2,"color":"black"},"encoding":{"x":{"field":"w","type":"nominal"},"xOffset":{"field":"t","type":"nominal"},"y":{"field":"e","type":"quantitative"}}},
   {"data":{"name":"st"},"transform":[{"filter":"datum.p=='hARA'"}],"mark":{"type":"tick","orient":"horizontal","size":13,"thickness":1.3,"color":"black"},"encoding":{"x":{"field":"w","type":"nominal"},"y":{"field":"y","type":"quantitative"}}},
   {"data":{"name":"st"},"transform":[{"filter":"datum.p=='hARA'"}],"mark":{"type":"text","text":"*","fontSize":15,"fontWeight":"bold","color":"black"},"encoding":{"x":{"field":"w","type":"nominal"},"y":{"field":"ys","type":"quantitative"}}},
   {"data":{"name":"l"},"transform":[{"filter":"datum.p=='hARA'"}],"mark":{"type":"rule","strokeWidth":1.4},"encoding":{"x":{"field":"w","type":"nominal"},"x2":{"field":"w2"},"xOffset":{"field":"t","type":"nominal"},"y":{"field":"y","type":"quantitative"},"color":{"field":"t","type":"nominal","legend":null}}},
   {"data":{"name":"s"},"transform":[{"filter":"datum.p=='hARA'"}],"mark":{"type":"text","fontSize":14},"encoding":{"x":{"field":"w","type":"nominal"},"xOffset":{"field":"t","type":"nominal"},"y":{"field":"y","type":"quantitative"},"text":{"field":"s"},"color":{"field":"g","type":"nominal","legend":null}}}
  ]},
  {"data":{"values":[{}]},"mark":{"type":"point","opacity":0},"encoding":{"x":{"datum":0,"type":"quantitative","scale":{"domain":[0,1],"range":[0,77]},"axis":{"offset":0,"labels":false,"ticks":false,"title":"ARA","titleY":-18,"titleBaseline":"alphabetic","titleFontSize":13.5,"titlePadding":0}}}}
 ]},
 {"width":77,"height":53,"resolve":{"scale":{"x":"independent","y":"independent"}},"layer":[
  {"data":{"name":"d"},"transform":[{"filter":"datum.p=='bLNA'"}],"layer":[
   {"mark":{"type":"tick","orient":"vertical","size":7,"thickness":1.2,"color":"black"},"encoding":{"x":{"field":"w","type":"nominal"},"xOffset":{"field":"t","type":"nominal"},"y":{"datum":0}}},
   {"mark":"bar","encoding":{"x":{"field":"w","type":"nominal","title":"Post-TAC (wks)","axis":{"labelExpr":"['—', datum.label]"}},"xOffset":{"field":"t","type":"nominal"},"y":{"field":"m","type":"quantitative","scale":{"domain":[0,20],"nice":false},"axis":{"labelOverlap":false,"tickCount":4,"title":["Concentration","(μg/mL)"]}},"color":{"field":"t","type":"nominal","legend":null}}},
   {"mark":{"type":"rule","strokeWidth":1.2,"color":"black"},"encoding":{"x":{"field":"w","type":"nominal"},"xOffset":{"field":"t","type":"nominal"},"y":{"field":"e","type":"quantitative"},"y2":{"field":"m"}}},
   {"mark":{"type":"tick","orient":"horizontal","size":5,"thickness":1.2,"color":"black"},"encoding":{"x":{"field":"w","type":"nominal"},"xOffset":{"field":"t","type":"nominal"},"y":{"field":"e","type":"quantitative"}}},
   {"data":{"name":"l"},"transform":[{"filter":"datum.p=='bLNA'"}],"mark":{"type":"rule","strokeWidth":1.4},"encoding":{"x":{"field":"w","type":"nominal"},"x2":{"field":"w2"},"xOffset":{"field":"t","type":"nominal"},"y":{"field":"y","type":"quantitative"},"color":{"field":"t","type":"nominal","legend":null}}},
   {"data":{"name":"s"},"transform":[{"filter":"datum.p=='bLNA'"}],"mark":{"type":"text","fontSize":14},"encoding":{"x":{"field":"w","type":"nominal"},"xOffset":{"field":"t","type":"nominal"},"y":{"field":"y","type":"quantitative"},"text":{"field":"s"},"color":{"field":"g","type":"nominal","legend":null}}}
  ]},
  {"data":{"values":[{}]},"mark":{"type":"point","opacity":0},"encoding":{"x":{"datum":0,"type":"quantitative","scale":{"domain":[0,1],"range":[0,77]},"axis":{"offset":0,"labels":false,"ticks":false,"title":"LNA","titleY":-18,"titleBaseline":"alphabetic","titleFontSize":13.5,"titlePadding":0}}}},
  {"data":{"values":[{}]},"mark":{"type":"point","opacity":0},"encoding":{"y":{"datum":0,"type":"quantitative","scale":{"domain":[0,1],"range":[224,-19]},"axis":{"orient":"left","offset":69,"labels":false,"ticks":false,"title":"Omega-3 PUFA","titleFontSize":13.5,"titlePadding":1,"domainWidth":2}}}}
 ]},
 {"width":124,"height":53,"resolve":{"scale":{"x":"independent","y":"independent"}},"layer":[
  {"data":{"name":"d"},"transform":[{"filter":"datum.p=='bEPA'"}],"layer":[
   {"mark":{"type":"tick","orient":"vertical","size":7,"thickness":1.2,"color":"black"},"encoding":{"x":{"field":"w","type":"nominal"},"xOffset":{"field":"t","type":"nominal"},"y":{"datum":0}}},
   {"mark":"bar","encoding":{"x":{"field":"w","type":"nominal","title":"Post-TAC (wks)","scale":{"range":[0,77]},"axis":{"labelExpr":"['—', datum.label]"}},"xOffset":{"field":"t","type":"nominal"},"y":{"field":"m","type":"quantitative","scale":{"domain":[0,80],"nice":false},"axis":{"labelOverlap":false,"tickCount":4,"title":["Concentration","(μg/mL)"]}},"color":{"field":"t","type":"nominal","legend":null}}},
   {"mark":{"type":"rule","strokeWidth":1.2,"color":"black"},"encoding":{"x":{"field":"w","type":"nominal"},"xOffset":{"field":"t","type":"nominal"},"y":{"field":"e","type":"quantitative"},"y2":{"field":"m"}}},
   {"mark":{"type":"tick","orient":"horizontal","size":5,"thickness":1.2,"color":"black"},"encoding":{"x":{"field":"w","type":"nominal"},"xOffset":{"field":"t","type":"nominal"},"y":{"field":"e","type":"quantitative"}}},
   {"data":{"name":"st"},"transform":[{"filter":"datum.p=='bEPA'"}],"mark":{"type":"tick","orient":"horizontal","size":13,"thickness":1.3,"color":"black"},"encoding":{"x":{"field":"w","type":"nominal"},"y":{"field":"y","type":"quantitative"}}},
   {"data":{"name":"st"},"transform":[{"filter":"datum.p=='bEPA'"}],"mark":{"type":"text","text":"*","fontSize":15,"fontWeight":"bold","color":"black"},"encoding":{"x":{"field":"w","type":"nominal"},"y":{"field":"ys","type":"quantitative"}}}
  ]},
  {"data":{"values":[{}]},"mark":{"type":"point","opacity":0},"encoding":{"x":{"datum":0,"type":"quantitative","scale":{"domain":[0,1],"range":[0,77]},"axis":{"offset":0,"labels":false,"ticks":false,"title":"EPA","titleY":-18,"titleBaseline":"alphabetic","titleFontSize":13.5,"titlePadding":0}}}}
 ]},
 {"width":77,"height":53,"resolve":{"scale":{"x":"independent","y":"independent"}},"layer":[
  {"data":{"name":"d"},"transform":[{"filter":"datum.p=='hLNA'"}],"layer":[
   {"mark":{"type":"tick","orient":"vertical","size":7,"thickness":1.2,"color":"black"},"encoding":{"x":{"field":"w","type":"nominal"},"xOffset":{"field":"t","type":"nominal"},"y":{"datum":0}}},
   {"mark":"bar","encoding":{"x":{"field":"w","type":"nominal","title":"Post-TAC (wks)","axis":{"labelExpr":"['—', datum.label]"}},"xOffset":{"field":"t","type":"nominal"},"y":{"field":"m","type":"quantitative","scale":{"domain":[0,0.8],"nice":false},"axis":{"labelOverlap":false,"tickCount":4,"format":".1f","title":["Concentration","(μg/mg of heart)"]}},"color":{"field":"t","type":"nominal","legend":null}}},
   {"mark":{"type":"rule","strokeWidth":1.2,"color":"black"},"encoding":{"x":{"field":"w","type":"nominal"},"xOffset":{"field":"t","type":"nominal"},"y":{"field":"e","type":"quantitative"},"y2":{"field":"m"}}},
   {"mark":{"type":"tick","orient":"horizontal","size":5,"thickness":1.2,"color":"black"},"encoding":{"x":{"field":"w","type":"nominal"},"xOffset":{"field":"t","type":"nominal"},"y":{"field":"e","type":"quantitative"}}},
   {"data":{"name":"l"},"transform":[{"filter":"datum.p=='hLNA'"}],"mark":{"type":"rule","strokeWidth":1.4},"encoding":{"x":{"field":"w","type":"nominal"},"x2":{"field":"w2"},"xOffset":{"field":"t","type":"nominal"},"y":{"field":"y","type":"quantitative"},"color":{"field":"t","type":"nominal","legend":null}}},
   {"data":{"name":"s"},"transform":[{"filter":"datum.p=='hLNA'"}],"mark":{"type":"text","fontSize":14},"encoding":{"x":{"field":"w","type":"nominal"},"xOffset":{"field":"t","type":"nominal"},"y":{"field":"y","type":"quantitative"},"text":{"field":"s"},"color":{"field":"g","type":"nominal","legend":null}}}
  ]},
  {"data":{"values":[{}]},"mark":{"type":"point","opacity":0},"encoding":{"x":{"datum":0,"type":"quantitative","scale":{"domain":[0,1],"range":[0,77]},"axis":{"offset":0,"labels":false,"ticks":false,"title":"LNA","titleY":-18,"titleBaseline":"alphabetic","titleFontSize":13.5,"titlePadding":0}}}},
  {"data":{"values":[{}]},"mark":{"type":"point","opacity":0},"encoding":{"y":{"datum":0,"type":"quantitative","scale":{"domain":[0,1],"range":[224,-19]},"axis":{"orient":"left","offset":73,"labels":false,"ticks":false,"title":"Omega-3 PUFA","titleFontSize":13.5,"titlePadding":1.5,"domainWidth":2}}}}
 ]},
 {"width":77,"height":53,"resolve":{"scale":{"x":"independent","y":"independent"}},"layer":[
  {"data":{"name":"d"},"transform":[{"filter":"datum.p=='hEPA'"}],"layer":[
   {"mark":{"type":"tick","orient":"vertical","size":7,"thickness":1.2,"color":"black"},"encoding":{"x":{"field":"w","type":"nominal"},"xOffset":{"field":"t","type":"nominal"},"y":{"datum":0}}},
   {"mark":"bar","encoding":{"x":{"field":"w","type":"nominal","title":"Post-TAC (wks)","axis":{"labelExpr":"['—', datum.label]"}},"xOffset":{"field":"t","type":"nominal"},"y":{"field":"m","type":"quantitative","scale":{"domain":[0,1.5],"nice":false},"axis":{"labelOverlap":false,"tickCount":3,"format":".1f","title":["Concentration","(μg/mg of heart)"]}},"color":{"field":"t","type":"nominal","legend":null}}},
   {"mark":{"type":"rule","strokeWidth":1.2,"color":"black"},"encoding":{"x":{"field":"w","type":"nominal"},"xOffset":{"field":"t","type":"nominal"},"y":{"field":"e","type":"quantitative"},"y2":{"field":"m"}}},
   {"mark":{"type":"tick","orient":"horizontal","size":5,"thickness":1.2,"color":"black"},"encoding":{"x":{"field":"w","type":"nominal"},"xOffset":{"field":"t","type":"nominal"},"y":{"field":"e","type":"quantitative"}}},
   {"data":{"name":"st"},"transform":[{"filter":"datum.p=='hEPA'"}],"mark":{"type":"tick","orient":"horizontal","size":13,"thickness":1.3,"color":"black"},"encoding":{"x":{"field":"w","type":"nominal"},"y":{"field":"y","type":"quantitative"}}},
   {"data":{"name":"st"},"transform":[{"filter":"datum.p=='hEPA'"}],"mark":{"type":"text","text":"*","fontSize":15,"fontWeight":"bold","color":"black"},"encoding":{"x":{"field":"w","type":"nominal"},"y":{"field":"ys","type":"quantitative"}}},
   {"data":{"name":"l"},"transform":[{"filter":"datum.p=='hEPA'"}],"mark":{"type":"rule","strokeWidth":1.4},"encoding":{"x":{"field":"w","type":"nominal"},"x2":{"field":"w2"},"xOffset":{"field":"t","type":"nominal"},"y":{"field":"y","type":"quantitative"},"color":{"field":"t","type":"nominal","legend":null}}},
   {"data":{"name":"s"},"transform":[{"filter":"datum.p=='hEPA'"}],"mark":{"type":"text","fontSize":14},"encoding":{"x":{"field":"w","type":"nominal"},"xOffset":{"field":"t","type":"nominal"},"y":{"field":"y","type":"quantitative"},"text":{"field":"s"},"color":{"field":"g","type":"nominal","legend":null}}}
  ]},
  {"data":{"values":[{}]},"mark":{"type":"point","opacity":0},"encoding":{"x":{"datum":0,"type":"quantitative","scale":{"domain":[0,1],"range":[0,77]},"axis":{"offset":0,"labels":false,"ticks":false,"title":"EPA","titleY":-18,"titleBaseline":"alphabetic","titleFontSize":13.5,"titlePadding":0}}}}
 ]},
 {"width":77,"height":53,"resolve":{"scale":{"x":"independent","y":"independent"}},"layer":[
  {"data":{"name":"d"},"transform":[{"filter":"datum.p=='bDPA'"}],"layer":[
   {"mark":{"type":"tick","orient":"vertical","size":7,"thickness":1.2,"color":"black"},"encoding":{"x":{"field":"w","type":"nominal"},"xOffset":{"field":"t","type":"nominal"},"y":{"datum":0}}},
   {"mark":"bar","encoding":{"x":{"field":"w","type":"nominal","title":"Post-TAC (wks)","axis":{"labelExpr":"['—', datum.label]"}},"xOffset":{"field":"t","type":"nominal"},"y":{"field":"m","type":"quantitative","scale":{"domain":[0,25],"nice":false},"axis":{"labelOverlap":false,"tickCount":5,"labelFontSize":10,"title":["Concentration","(μg/mL)"]}},"color":{"field":"t","type":"nominal","legend":{"orient":"none","legendX":62,"legendY":109,"direction":"horizontal","title":null,"labelExpr":"datum.value == 0 ? 'vehicle' : 'Omega-3 EE'","symbolType":"square","symbolSize":180,"symbolStrokeColor":"black","symbolStrokeWidth":0.6,"labelFontSize":13.5,"labelFontWeight":"bold","labelColor":"black","columnPadding":14,"labelOffset":5}}}},
   {"mark":{"type":"rule","strokeWidth":1.2,"color":"black"},"encoding":{"x":{"field":"w","type":"nominal"},"xOffset":{"field":"t","type":"nominal"},"y":{"field":"e","type":"quantitative"},"y2":{"field":"m"}}},
   {"mark":{"type":"tick","orient":"horizontal","size":5,"thickness":1.2,"color":"black"},"encoding":{"x":{"field":"w","type":"nominal"},"xOffset":{"field":"t","type":"nominal"},"y":{"field":"e","type":"quantitative"}}}
  ]},
  {"data":{"values":[{}]},"mark":{"type":"point","opacity":0},"encoding":{"x":{"datum":0,"type":"quantitative","scale":{"domain":[0,1],"range":[0,77]},"axis":{"offset":0,"labels":false,"ticks":false,"title":"DPA","titleY":-18,"titleBaseline":"alphabetic","titleFontSize":13.5,"titlePadding":0}}}}
 ]},
 {"width":124,"height":53,"resolve":{"scale":{"x":"independent","y":"independent"}},"layer":[
  {"data":{"name":"d"},"transform":[{"filter":"datum.p=='bDHA'"}],"layer":[
   {"mark":{"type":"tick","orient":"vertical","size":7,"thickness":1.2,"color":"black"},"encoding":{"x":{"field":"w","type":"nominal"},"xOffset":{"field":"t","type":"nominal"},"y":{"datum":0}}},
   {"mark":"bar","encoding":{"x":{"field":"w","type":"nominal","title":"Post-TAC (wks)","scale":{"range":[0,77]},"axis":{"labelExpr":"['—', datum.label]"}},"xOffset":{"field":"t","type":"nominal"},"y":{"field":"m","type":"quantitative","scale":{"domain":[0,200],"nice":false},"axis":{"labelOverlap":false,"tickCount":4,"title":["Concentration","(μg/mL)"]}},"color":{"field":"t","type":"nominal","legend":null}}},
   {"mark":{"type":"rule","strokeWidth":1.2,"color":"black"},"encoding":{"x":{"field":"w","type":"nominal"},"xOffset":{"field":"t","type":"nominal"},"y":{"field":"e","type":"quantitative"},"y2":{"field":"m"}}},
   {"mark":{"type":"tick","orient":"horizontal","size":5,"thickness":1.2,"color":"black"},"encoding":{"x":{"field":"w","type":"nominal"},"xOffset":{"field":"t","type":"nominal"},"y":{"field":"e","type":"quantitative"}}}
  ]},
  {"data":{"values":[{}]},"mark":{"type":"point","opacity":0},"encoding":{"x":{"datum":0,"type":"quantitative","scale":{"domain":[0,1],"range":[0,77]},"axis":{"offset":0,"labels":false,"ticks":false,"title":"DHA","titleY":-18,"titleBaseline":"alphabetic","titleFontSize":13.5,"titlePadding":0}}}}
 ]},
 {"width":77,"height":53,"resolve":{"scale":{"x":"independent","y":"independent"}},"layer":[
  {"data":{"name":"d"},"transform":[{"filter":"datum.p=='hDPA'"}],"layer":[
   {"mark":{"type":"tick","orient":"vertical","size":7,"thickness":1.2,"color":"black"},"encoding":{"x":{"field":"w","type":"nominal"},"xOffset":{"field":"t","type":"nominal"},"y":{"datum":0}}},
   {"mark":"bar","encoding":{"x":{"field":"w","type":"nominal","title":"Post-TAC (wks)","axis":{"labelExpr":"['—', datum.label]"}},"xOffset":{"field":"t","type":"nominal"},"y":{"field":"m","type":"quantitative","scale":{"domain":[0,5],"nice":false},"axis":{"labelOverlap":false,"tickCount":5,"labelFontSize":10,"title":["Concentration","(μg/mg of heart)"]}},"color":{"field":"t","type":"nominal","legend":{"orient":"none","legendX":57,"legendY":109,"direction":"horizontal","title":null,"labelExpr":"datum.value == 0 ? 'vehicle' : 'Omega-3 EE'","symbolType":"square","symbolSize":180,"symbolStrokeColor":"black","symbolStrokeWidth":0.6,"labelFontSize":13.5,"labelFontWeight":"bold","labelColor":"black","columnPadding":14,"labelOffset":5}}}},
   {"mark":{"type":"rule","strokeWidth":1.2,"color":"black"},"encoding":{"x":{"field":"w","type":"nominal"},"xOffset":{"field":"t","type":"nominal"},"y":{"field":"e","type":"quantitative"},"y2":{"field":"m"}}},
   {"mark":{"type":"tick","orient":"horizontal","size":5,"thickness":1.2,"color":"black"},"encoding":{"x":{"field":"w","type":"nominal"},"xOffset":{"field":"t","type":"nominal"},"y":{"field":"e","type":"quantitative"}}},
   {"data":{"name":"l"},"transform":[{"filter":"datum.p=='hDPA'"}],"mark":{"type":"rule","strokeWidth":1.4},"encoding":{"x":{"field":"w","type":"nominal"},"x2":{"field":"w2"},"xOffset":{"field":"t","type":"nominal"},"y":{"field":"y","type":"quantitative"},"color":{"field":"t","type":"nominal","legend":null}}},
   {"data":{"name":"s"},"transform":[{"filter":"datum.p=='hDPA'"}],"mark":{"type":"text","fontSize":14},"encoding":{"x":{"field":"w","type":"nominal"},"xOffset":{"field":"t","type":"nominal"},"y":{"field":"y","type":"quantitative"},"text":{"field":"s"},"color":{"field":"g","type":"nominal","legend":null}}}
  ]},
  {"data":{"values":[{}]},"mark":{"type":"point","opacity":0},"encoding":{"x":{"datum":0,"type":"quantitative","scale":{"domain":[0,1],"range":[0,77]},"axis":{"offset":0,"labels":false,"ticks":false,"title":"DPA","titleY":-18,"titleBaseline":"alphabetic","titleFontSize":13.5,"titlePadding":0}}}}
 ]},
 {"width":77,"height":53,"resolve":{"scale":{"x":"independent","y":"independent"}},"layer":[
  {"data":{"name":"d"},"transform":[{"filter":"datum.p=='hDHA'"}],"layer":[
   {"mark":{"type":"tick","orient":"vertical","size":7,"thickness":1.2,"color":"black"},"encoding":{"x":{"field":"w","type":"nominal"},"xOffset":{"field":"t","type":"nominal"},"y":{"datum":0}}},
   {"mark":"bar","encoding":{"x":{"field":"w","type":"nominal","title":"Post-TAC (wks)","axis":{"labelExpr":"['—', datum.label]"}},"xOffset":{"field":"t","type":"nominal"},"y":{"field":"m","type":"quantitative","scale":{"domain":[0,100],"nice":false},"axis":{"labelOverlap":false,"tickCount":5,"labelFontSize":10,"title":["Concentration","(μg/mg of heart)"]}},"color":{"field":"t","type":"nominal","legend":null}}},
   {"mark":{"type":"rule","strokeWidth":1.2,"color":"black"},"encoding":{"x":{"field":"w","type":"nominal"},"xOffset":{"field":"t","type":"nominal"},"y":{"field":"e","type":"quantitative"},"y2":{"field":"m"}}},
   {"mark":{"type":"tick","orient":"horizontal","size":5,"thickness":1.2,"color":"black"},"encoding":{"x":{"field":"w","type":"nominal"},"xOffset":{"field":"t","type":"nominal"},"y":{"field":"e","type":"quantitative"}}},
   {"data":{"name":"l"},"transform":[{"filter":"datum.p=='hDHA'"}],"mark":{"type":"rule","strokeWidth":1.4},"encoding":{"x":{"field":"w","type":"nominal"},"x2":{"field":"w2"},"xOffset":{"field":"t","type":"nominal"},"y":{"field":"y","type":"quantitative"},"color":{"field":"t","type":"nominal","legend":null}}},
   {"data":{"name":"s"},"transform":[{"filter":"datum.p=='hDHA'"}],"mark":{"type":"text","fontSize":14},"encoding":{"x":{"field":"w","type":"nominal"},"xOffset":{"field":"t","type":"nominal"},"y":{"field":"y","type":"quantitative"},"text":{"field":"s"},"color":{"field":"g","type":"nominal","legend":null}}}
  ]},
  {"data":{"values":[{}]},"mark":{"type":"point","opacity":0},"encoding":{"x":{"datum":0,"type":"quantitative","scale":{"domain":[0,1],"range":[0,77]},"axis":{"offset":0,"labels":false,"ticks":false,"title":"DHA","titleY":-18,"titleBaseline":"alphabetic","titleFontSize":13.5,"titlePadding":0}}}}
 ]}
]
}
